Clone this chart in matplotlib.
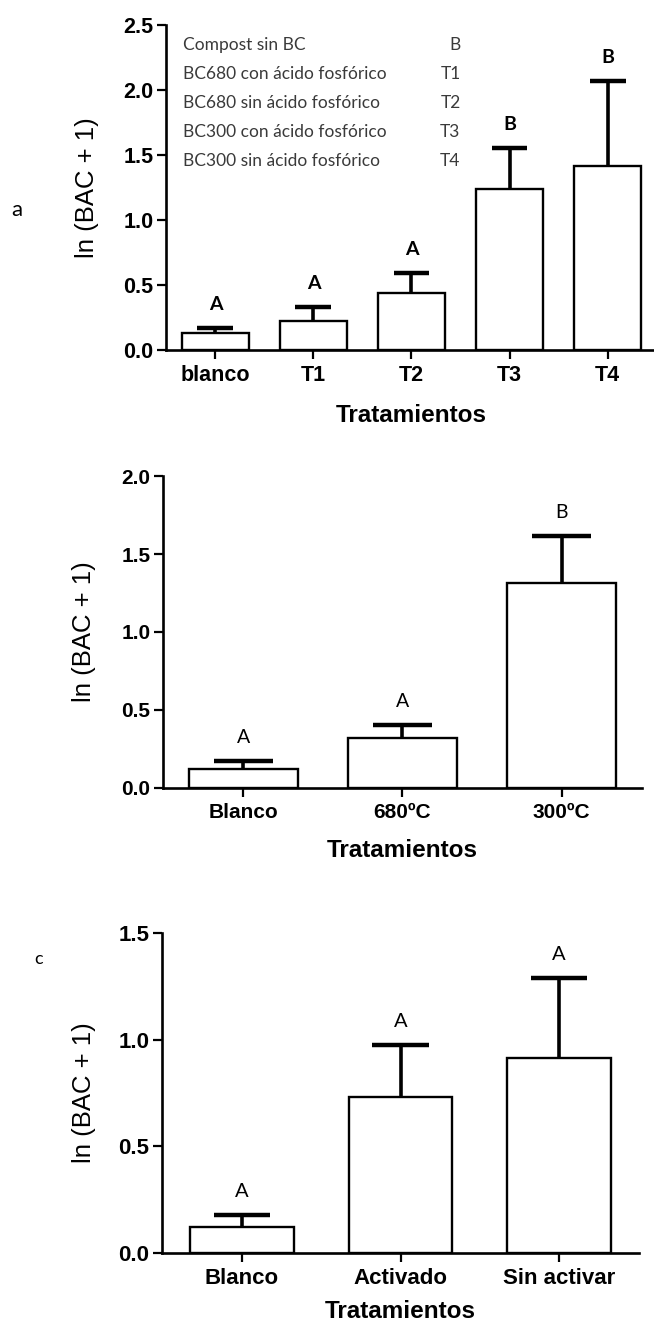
import matplotlib.pyplot as plt
import numpy as np

# Panel a: cinco tratamientos
trat_a = ['blanco', 'T1', 'T2', 'T3', 'T4']
media_a = [0.128, 0.223, 0.436, 1.238, 1.415]
error_a = [0.042, 0.110, 0.154, 0.318, 0.655]
letras_a = ['A', 'A', 'A', 'B', 'B']

leyenda_desc = ['Compost sin BC', 'BC680 con ácido fosfórico', 'BC680 sin ácido fosfórico',
                'BC300 con ácido fosfórico', 'BC300 sin ácido fosfórico']
leyenda_cod = ['B', 'T1', 'T2', 'T3', 'T4']

# Panel b: temperatura de pirólisis
trat_b = ['Blanco', '680ºC', '300ºC']
media_b = [0.122, 0.318, 1.312]
error_b = [0.051, 0.086, 0.303]
letras_b = ['A', 'A', 'B']

# Panel c: activación
trat_c = ['Blanco', 'Activado', 'Sin activar']
media_c = [0.123, 0.729, 0.914]
error_c = [0.055, 0.244, 0.376]
letras_c = ['A', 'A', 'A']

TICK_FONT = 'Liberation Sans'
NOTE_FONT = 'Lato'


def draw_panel(ax, cats, media, error, letras, ymax, bar_w, tick_size, letter_weight, letter_size):
    x = np.arange(len(cats))
    ax.bar(x, media, width=bar_w, color='white', edgecolor='black', linewidth=1.7, zorder=2)
    tops = np.array(media) + np.array(error)
    half = bar_w * 0.27
    ax.vlines(x, media, tops, color='black', linewidth=2.6, zorder=3)
    ax.hlines(tops, x - half, x + half, color='black', linewidth=3.2, zorder=3)
    for xi, top, let in zip(x, tops, letras):
        ax.annotate(let, (xi, top), xytext=(0, 17), textcoords='offset points',
                    ha='center', va='center', fontsize=letter_size, fontweight=letter_weight,
                    family=NOTE_FONT)

    ax.set_xlim(-0.505, len(cats) - 0.495)
    ax.set_ylim(0, ymax)
    ax.set_yticks(np.arange(0, ymax + 0.01, 0.5))
    ax.set_yticklabels(['%.1f' % v for v in np.arange(0, ymax + 0.01, 0.5)])
    ax.set_xticks(x)
    ax.set_xticklabels(cats)
    for lab in ax.get_xticklabels() + ax.get_yticklabels():
        lab.set_family(TICK_FONT)
        lab.set_fontweight('bold')
        lab.set_fontsize(tick_size)

    ax.spines['top'].set_visible(False)
    ax.spines['right'].set_visible(False)
    ax.spines['left'].set_linewidth(1.9)
    ax.spines['bottom'].set_linewidth(1.9)
    ax.spines['bottom'].set_zorder(4)
    ax.tick_params(axis='both', direction='out', length=6.5, width=1.6, color='black')
    ax.tick_params(axis='y', pad=2.5)
    ax.tick_params(axis='x', pad=4)

    ax.set_ylabel('ln (BAC + 1)', family=TICK_FONT, fontsize=18.5)
    ax.set_xlabel('Tratamientos', family=TICK_FONT, fontsize=17.5, fontweight='bold')


fig = plt.figure(figsize=(6.54, 13.23), dpi=100)

ax_a = fig.add_axes([0.2538, 0.7355, 0.7508, 0.2457])
draw_panel(ax_a, trat_a, media_a, error_a, letras_a, 2.5, 0.68, 15.5, 'bold', 14)
ax_a.yaxis.set_label_coords(-0.1365, 0.5)
ax_a.xaxis.set_label_coords(0.5, -0.166)

# leyenda de tratamientos
for i, (desc, cod) in enumerate(zip(leyenda_desc, leyenda_cod)):
    yy = 0.938 - i * 0.0892
    ax_a.text(0.0346, yy, desc, transform=ax_a.transAxes, ha='left', va='center',
              family=NOTE_FONT, fontsize=12.5, color='#3a3a3a')
    ax_a.text(0.600, yy, cod, transform=ax_a.transAxes, ha='right', va='center',
              family=NOTE_FONT, fontsize=12.5, color='#3a3a3a')

ax_b = fig.add_axes([0.2492, 0.4044, 0.7324, 0.2358])
draw_panel(ax_b, trat_b, media_b, error_b, letras_b, 2.0, 0.686, 15, 'normal', 14)
ax_b.yaxis.set_label_coords(-0.14, 0.5)
ax_b.xaxis.set_label_coords(0.5, -0.163)

ax_c = fig.add_axes([0.2477, 0.0529, 0.7294, 0.2419])
draw_panel(ax_c, trat_c, media_c, error_c, letras_c, 1.5, 0.656, 16, 'normal', 14.5)
ax_c.yaxis.set_label_coords(-0.138, 0.5)
ax_c.xaxis.set_label_coords(0.5, -0.148)

fig.text(17 / 654, 1 - 210 / 1323, 'a', family=NOTE_FONT, fontsize=16, ha='center', va='center')
fig.text(39 / 654, 1 - 959 / 1323, 'c', family=NOTE_FONT, fontsize=13, ha='center', va='center')

fig.savefig('out.png', dpi=100)
